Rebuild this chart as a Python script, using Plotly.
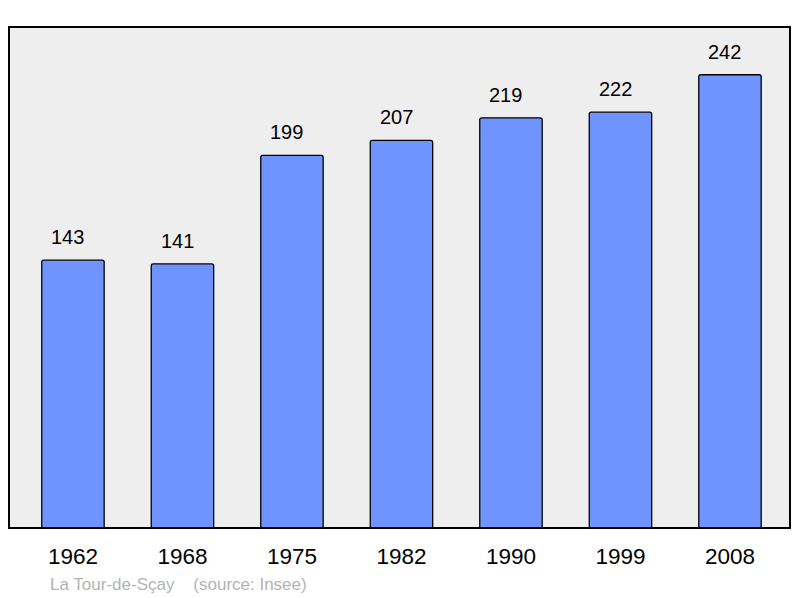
import plotly.graph_objects as go

years = ["1962", "1968", "1975", "1982", "1990", "1999", "2008"]
population = [143, 141, 199, 207, 219, 222, 242]

fig = go.Figure()

fig.add_trace(go.Bar(
    x=years,
    y=population,
    width=0.57,
    marker=dict(color="#7094ff", line=dict(color="black", width=1.3), cornerradius=2),
    hoverinfo="skip",
))

# value labels above the bars (category index as x)
for i, val in enumerate(population):
    fig.add_annotation(
        x=i, y=val, text=str(val), showarrow=False,
        yanchor="bottom", yshift=10, xshift=-5,
        font=dict(family="Liberation Sans, Arial", size=20, color="black"),
    )

# frame round the plot area
fig.add_shape(type="rect", xref="paper", yref="paper", x0=0, x1=1, y0=0, y1=1,
              line=dict(color="black", width=2), layer="above")

fig.add_annotation(
    xref="paper", yref="paper", x=0.05, y=-0.09, xanchor="left", yanchor="top",
    text="La Tour-de-Sçay&nbsp;&nbsp;&nbsp;&nbsp;(source: Insee)", showarrow=False,
    font=dict(family="Liberation Sans, Arial", size=17, color="#b3b3b3"),
)

fig.update_layout(
    width=800, height=598,
    margin=dict(l=9, r=10, t=27, b=70),
    paper_bgcolor="white",
    plot_bgcolor="#eeeeee",
    showlegend=False,
    font=dict(family="Liberation Sans, Arial", color="black"),
    xaxis=dict(type="category", range=[-0.584, 6.548], showgrid=False, zeroline=False,
               ticks="", tickfont=dict(size=22.5), ticklabelstandoff=12, fixedrange=True),
    yaxis=dict(range=[0, 267.5], showgrid=False, zeroline=False, showticklabels=False,
               fixedrange=True),
)

fig.write_html("out.html", config={"displayModeBar": False},
               post_script="document.body.style.margin='0';")
